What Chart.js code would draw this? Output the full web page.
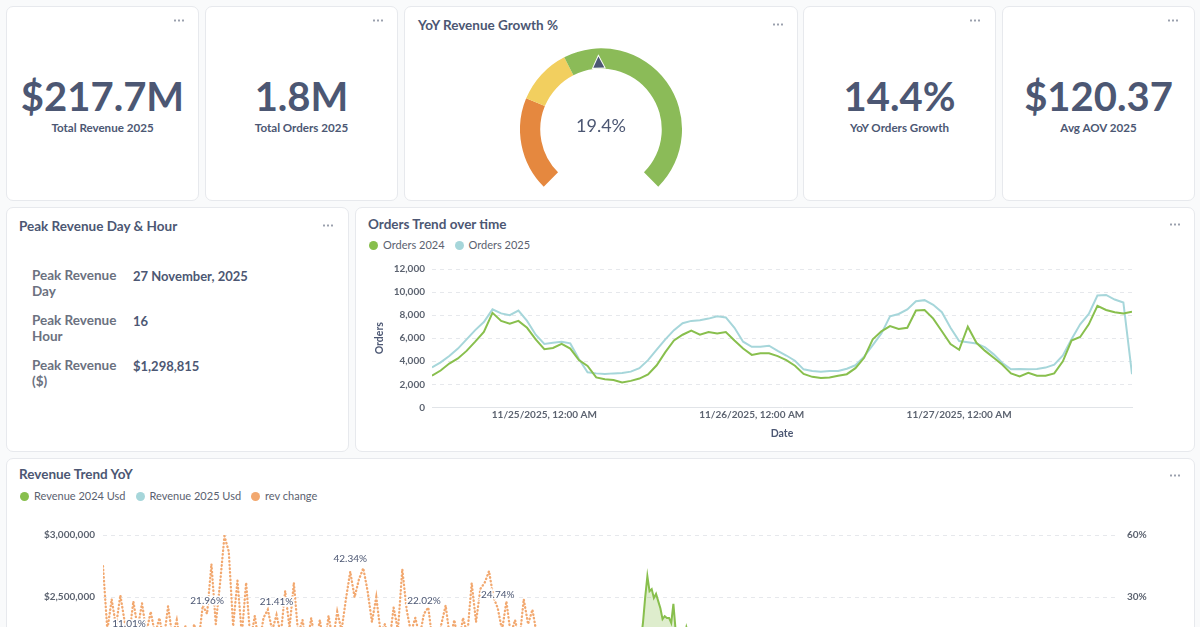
<!DOCTYPE html>
<html>
<head>
<meta charset="utf-8">
<script src="https://cdn.jsdelivr.net/npm/chart.js@4.4.1/dist/chart.umd.min.js"></script>
<style>
  body { margin:0; width:1200px; height:627px; overflow:hidden; background:#f9fafb; font-family:Lato, sans-serif; color:#4c5773; position:relative; }
  .card { position:absolute; background:#fff; border:1px solid #e7e9ed; border-radius:7px; box-sizing:border-box; }
  .dots { position:absolute; width:11px; height:3px; background:radial-gradient(circle, #9aa0ad 0.9px, transparent 1.3px) 0 0/4px 3px repeat-x; }
  .kpi { position:absolute; text-align:center; font-size:40px; font-weight:700; line-height:40px; }
  .kpi-label { position:absolute; text-align:center; font-size:11.6px; font-weight:700; line-height:16px; }
  .title { position:absolute; font-size:13.5px; font-weight:700; line-height:18px; white-space:nowrap; }
  .legend { position:absolute; font-size:11px; color:#5b6270; line-height:14px; white-space:nowrap; }
  .legend span { margin-right:10px; }
  .legend i { display:inline-block; width:9px; height:9px; border-radius:50%; margin-right:5px; vertical-align:-1px; }
  .plabel { position:absolute; width:100px; font-size:13.5px; font-weight:700; color:#6b7180; line-height:16px; }
  .pval { position:absolute; font-size:13px; font-weight:700; color:#4c5773; line-height:16px; white-space:nowrap; }
  canvas { position:absolute; }
</style>
</head>
<body>
<!-- row 1 -->
<div class="card" style="left:6px;top:6px;width:193px;height:195px"></div>
<div class="card" style="left:205px;top:6px;width:193px;height:195px"></div>
<div class="card" style="left:404px;top:6px;width:394px;height:195px"></div>
<div class="card" style="left:803px;top:6px;width:193px;height:195px"></div>
<div class="card" style="left:1002px;top:6px;width:193px;height:195px"></div>
<!-- row 2 -->
<div class="card" style="left:6px;top:207px;width:343px;height:245px"></div>
<div class="card" style="left:355px;top:207px;width:840px;height:245px"></div>
<!-- row 3 -->
<div class="card" style="left:6px;top:458px;width:1189px;height:560px"></div>

<div class="dots" style="left:173px;top:19px"></div>
<div class="dots" style="left:372px;top:19px"></div>
<div class="dots" style="left:772px;top:23px"></div>
<div class="dots" style="left:969px;top:19px"></div>
<div class="dots" style="left:1167px;top:19px"></div>
<div class="dots" style="left:322px;top:224px"></div>
<div class="dots" style="left:1169px;top:223px"></div>
<div class="dots" style="left:1169px;top:474px"></div>

<div class="kpi" style="left:6px;width:193px;top:76px">$217.7M</div>
<div class="kpi-label" style="left:6px;width:193px;top:120px">Total Revenue 2025</div>
<div class="kpi" style="left:205px;width:193px;top:76px">1.8M</div>
<div class="kpi-label" style="left:205px;width:193px;top:120px">Total Orders 2025</div>
<div class="kpi" style="left:803px;width:193px;top:76px">14.4%</div>
<div class="kpi-label" style="left:803px;width:193px;top:120px">YoY Orders Growth</div>
<div class="kpi" style="left:1002px;width:193px;top:76px">$120.37</div>
<div class="kpi-label" style="left:1002px;width:193px;top:120px">Avg AOV 2025</div>

<div class="title" style="left:418px;top:16px">YoY Revenue Growth %</div>
<canvas id="gauge" style="left:520px;top:48px;width:162px;height:139px" width="162" height="139"></canvas>

<div class="title" style="left:19px;top:217px">Peak Revenue Day &amp; Hour</div>
<div class="plabel" style="left:32px;top:267px">Peak Revenue Day</div>
<div class="pval" style="left:133px;top:268px">27 November, 2025</div>
<div class="plabel" style="left:32px;top:312px">Peak Revenue Hour</div>
<div class="pval" style="left:133px;top:313px">16</div>
<div class="plabel" style="left:32px;top:357px">Peak Revenue ($)</div>
<div class="pval" style="left:133px;top:358px">$1,298,815</div>

<div class="title" style="left:368px;top:215px">Orders Trend over time</div>
<div class="legend" style="left:369px;top:238px"><span><i style="background:#88bf4d"></i>Orders 2024</span><span><i style="background:#a6d6da"></i>Orders 2025</span></div>
<canvas id="orders"></canvas>

<div class="title" style="left:19px;top:465px">Revenue Trend YoY</div>
<div class="legend" style="left:20px;top:489px"><span><i style="background:#88bf4d"></i>Revenue 2024 Usd</span><span><i style="background:#a6d6da"></i>Revenue 2025 Usd</span><span><i style="background:#f2a86f"></i>rev change</span></div>
<canvas id="revenue"></canvas>

<script>
Chart.defaults.font.family = 'Lato, sans-serif';
Chart.defaults.animation = false;

// gauge
const gaugeValue = 19.4;
const gaugeBands = [-20, 0, 12, 60];
const gaugeColors = ['#e5883f', '#f2cf5f', '#8bbb58'];

// orders trend, hourly from 11/24 11:00
const ordersStartHour = -13;
const orders2024 = [2745, 3200, 3800, 4250, 4900, 5700, 6550, 8200, 7500, 7250, 7500, 6900, 5900,
  5050, 5150, 5500, 5100, 4100, 3600, 2600, 2450, 2380, 2160, 2300, 2500, 2850, 3650, 4790, 5800, 6300, 6650, 6300, 6540, 6400, 6540, 5800, 5100,
  4550, 4700, 4700, 4450, 4100, 3610, 2900, 2650, 2550, 2600, 2750, 2880, 3400, 4300, 5900, 6600, 7050, 6800, 6900, 8400, 8450, 7700, 6600, 5500,
  5000, 7000, 5600, 4900, 4300, 3700, 2950, 2680, 3000, 2740, 2740, 2950, 4000, 5800, 6100, 7200, 8800, 8450, 8250, 8150, 8300];
const orders2025 = [3470, 3900, 4450, 5100, 5900, 6700, 7400, 8500, 8150, 8000, 8400, 7500, 6300,
  5500, 5600, 5700, 5550, 4200, 3050, 2950, 2900, 2950, 2980, 3100, 3400, 4100, 5000, 5900, 6700, 7300, 7500, 7550, 7700, 7900, 7800, 6900, 5700,
  5250, 5250, 5350, 4900, 4500, 4050, 3300, 3150, 3100, 3150, 3150, 3350, 3650, 4400, 5400, 6400, 7900, 8100, 8500, 9200, 9300, 8900, 8250, 6900,
  5750, 5650, 5550, 5200, 4600, 3850, 3300, 3320, 3300, 3330, 3450, 3700, 4500, 5900, 7200, 8100, 9700, 9750, 9350, 9100, 2880];
const ordersTickHours = [0, 24, 48];
const ordersTickLabels = ['11/25/2025, 12:00 AM', '11/26/2025, 12:00 AM', '11/27/2025, 12:00 AM'];

// revenue trend yoy (only the top of the chart is in view)
const revChange = [45, 14, 29, 16, 31, 18, 11.01, 28, 15, 27,
  13, 23, 12, 20, 9, 25.6, 11, 19, 6, 16,
  3, 17, 8, 26, 21.96, 46, 17, 37, 59.5, 52,
  16, 38, 12, 37, 9, 21, 7, 20, 24, 14,
  21.41, 12, 33, 15, 37, 12, 19, 6, 20, 8,
  19, 5, 21, 9, 23, 14, 29, 42.34, 30, 38.5,
  44, 33, 18, 30, 13, 17, 8, 25, 14, 43.5,
  24, 13, 20, 11, 22.02, 25, 8, 6, 17, 26,
  10, 19, 7, 20, 12, 36.8, 18, 34, 37, 42.6,
  30, 24.74, 14, 28, 12, 19, 9, 29, 17, 24,
  12];
const revChangeLabelIdx = [6, 24, 40, 57, 74, 91];
const rev2024Start = 124;
const rev2024 = [2150000, 2300000, 2500000, 2669000, 2548000, 2565000, 2494000, 2527000, 2468000, 2411000,
  2323000, 2347000, 2333000, 2333000, 2293000, 2446000, 2240000, 2180000, 2150000, 2190000, 2170000, 2258000, 2200000];
const rev2025 = [];
const revTicksLeft = [0, 3000000];
const revTicksRight = [-120, 60];

const tickFont = { size: 10, weight: 'bold' };

const gaugeExtras = {
  id: 'gaugeExtras',
  afterDatasetsDraw(chart) {
    const arc = chart.getDatasetMeta(0).data[0];
    const { x, y, innerRadius, outerRadius } = arc;
    const ctx = chart.ctx;
    const lo = gaugeBands[0], hi = gaugeBands[gaugeBands.length - 1];
    const frac = (gaugeValue - lo) / (hi - lo);
    const a = (-135 - 90 + frac * 270) * Math.PI / 180;
    const rTip = innerRadius + (outerRadius - innerRadius) * 0.6;
    const rBase = innerRadius + 1;
    const px = Math.cos(a + Math.PI / 2), py = Math.sin(a + Math.PI / 2);
    ctx.save();
    ctx.beginPath();
    ctx.moveTo(x + rTip * Math.cos(a), y + rTip * Math.sin(a));
    ctx.lineTo(x + rBase * Math.cos(a) + px * 5.5, y + rBase * Math.sin(a) + py * 5.5);
    ctx.lineTo(x + rBase * Math.cos(a) - px * 5.5, y + rBase * Math.sin(a) - py * 5.5);
    ctx.closePath();
    ctx.lineWidth = 2;
    ctx.strokeStyle = '#fff';
    ctx.stroke();
    ctx.fillStyle = '#4c5773';
    ctx.fill();
    ctx.font = '18px Lato, sans-serif';
    ctx.textAlign = 'center';
    ctx.textBaseline = 'middle';
    ctx.fillText(gaugeValue.toFixed(1) + '%', x, y - 3);
    ctx.restore();
  }
};

new Chart(document.getElementById('gauge'), {
  type: 'doughnut',
  data: {
    datasets: [{
      data: gaugeBands.slice(1).map((v, i) => v - gaugeBands[i]),
      backgroundColor: gaugeColors,
      borderWidth: 0
    }]
  },
  options: {
    responsive: false,
    rotation: -135,
    circumference: 270,
    cutout: '75%',
    events: [],
    plugins: { legend: { display: false }, tooltip: { enabled: false } }
  },
  plugins: [gaugeExtras]
});

// orders trend
const ordersCanvas = document.getElementById('orders');
ordersCanvas.style.cssText = 'left:368px;top:256px;width:790px;height:192px';
new Chart(ordersCanvas, {
  type: 'line',
  data: {
    datasets: [
      { label: 'Orders 2024', data: orders2024.map((v, i) => ({ x: ordersStartHour + i, y: v })), borderColor: '#88bf4d', borderWidth: 2, pointRadius: 0, tension: 0 },
      { label: 'Orders 2025', data: orders2025.map((v, i) => ({ x: ordersStartHour + i, y: v })), borderColor: '#a6d6da', borderWidth: 2, pointRadius: 0, tension: 0 }
    ]
  },
  options: {
    responsive: false,
    events: [],
    layout: { padding: { top: 6, right: 26, bottom: 8, left: 0 } },
    plugins: { legend: { display: false }, tooltip: { enabled: false } },
    scales: {
      x: {
        type: 'linear',
        min: ordersStartHour,
        max: ordersStartHour + orders2024.length - 1,
        grid: { display: false, drawTicks: false },
        border: { color: '#e1e4e8' },
        afterBuildTicks(s) { s.ticks = ordersTickHours.map(v => ({ value: v })); },
        ticks: {
          autoSkip: false, maxRotation: 0, padding: 1, color: '#5c6370', font: tickFont,
          callback: v => ordersTickLabels[ordersTickHours.indexOf(v)]
        },
        title: { display: true, text: 'Date', color: '#4c5773', font: { size: 10.5, weight: 'bold' }, padding: { top: 6, bottom: 0 } }
      },
      y: {
        min: 0, max: 12000,
        grid: { color: '#e6e8ec', drawTicks: false },
        border: { display: false, dash: [4, 4] },
        ticks: { stepSize: 2000, padding: 7, color: '#5c6370', font: tickFont, callback: v => v.toLocaleString('en-US') },
        title: { display: true, text: 'Orders', color: '#4c5773', font: { size: 10.5, weight: 'bold' }, padding: { top: 5, bottom: 4 } },
        afterFit(s) { s.width = 64; }
      }
    }
  }
});

// revenue trend
const revLabels = {
  id: 'revLabels',
  afterDatasetsDraw(chart) {
    const meta = chart.getDatasetMeta(2);
    const ctx = chart.ctx;
    ctx.save();
    ctx.font = '10px Lato, sans-serif';
    ctx.textAlign = 'center';
    ctx.textBaseline = 'middle';
    ctx.lineWidth = 3;
    ctx.strokeStyle = '#fff';
    ctx.fillStyle = '#4c5773';
    revChangeLabelIdx.forEach(i => {
      const p = meta.data[i];
      const t = revChange[i].toFixed(2) + '%';
      ctx.strokeText(t, p.x, p.y - 13);
      ctx.fillText(t, p.x, p.y - 13);
    });
    ctx.restore();
  }
};

const revCanvas = document.getElementById('revenue');
revCanvas.style.cssText = 'left:10px;top:520px;width:1180px;height:444px';
new Chart(revCanvas, {
  type: 'line',
  data: {
    datasets: [
      { label: 'Revenue 2024 Usd', yAxisID: 'y', data: rev2024.map((v, i) => ({ x: rev2024Start + i * 0.5, y: v })),
        borderColor: '#88bf4d', backgroundColor: 'rgba(136,191,77,0.28)', fill: 'origin', borderWidth: 2, pointRadius: 0, tension: 0 },
      { label: 'Revenue 2025 Usd', yAxisID: 'y', data: rev2025,
        borderColor: '#a6d6da', backgroundColor: 'rgba(166,214,218,0.3)', fill: 'origin', borderWidth: 2, pointRadius: 0, tension: 0 },
      { label: 'rev change', yAxisID: 'y1', data: revChange.map((v, i) => ({ x: i, y: v })),
        borderColor: '#f2a86f', borderWidth: 2.3, borderDash: [0.5, 3.2], borderCapStyle: 'round', pointRadius: 0, tension: 0 }
    ]
  },
  options: {
    responsive: false,
    events: [],
    layout: { padding: { top: 0, right: 0, bottom: 56, left: 0 } },
    plugins: { legend: { display: false }, tooltip: { enabled: false } },
    scales: {
      x: { type: 'linear', min: 0, max: 234, display: false },
      y: {
        min: revTicksLeft[0], max: revTicksLeft[1],
        grid: { color: '#e6e8ec', drawTicks: false },
        border: { display: false, dash: [4, 4] },
        ticks: { stepSize: 500000, padding: 8, color: '#5c6370', font: tickFont, callback: v => '$' + v.toLocaleString('en-US') },
        afterFit(s) { s.width = 93; }
      },
      y1: {
        position: 'right',
        min: revTicksRight[0], max: revTicksRight[1],
        grid: { display: false, drawTicks: false },
        border: { display: false },
        ticks: { stepSize: 30, padding: 9, color: '#5c6370', font: tickFont, callback: v => v + '%' },
        afterFit(s) { s.width = 72; }
      }
    }
  },
  plugins: [revLabels]
});
</script>
</body>
</html>
